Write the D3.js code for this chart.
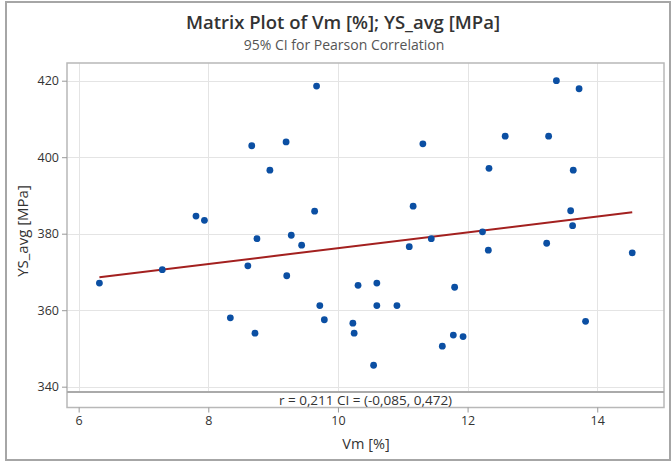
<!DOCTYPE html>
<html>
<head>
<meta charset="utf-8">
<script src="https://cdn.jsdelivr.net/npm/d3@7"></script>
<style>
  html, body { margin: 0; padding: 0; background: #fff; }
  svg { display: block; font-family: "Open Sans", "Noto Sans", sans-serif; }
</style>
</head>
<body>
<svg id="chart" width="672" height="463"></svg>
<script>
// Vm [%] and YS_avg [MPa] per specimen
const vm = [6.32, 7.29, 7.81, 7.94, 8.34, 8.61, 8.67, 8.72, 8.75, 8.95,
            9.20, 9.21, 9.28, 9.44, 9.64, 9.67, 9.72, 9.79, 10.23, 10.25,
            10.31, 10.55, 10.60, 10.60, 10.91, 11.10, 11.16, 11.31, 11.44, 11.61,
            11.78, 11.80, 11.93, 12.23, 12.32, 12.33, 12.58, 13.22, 13.25, 13.37,
            13.59, 13.62, 13.63, 13.72, 13.82, 14.54];
const ysAvg = [367.1, 370.6, 384.6, 383.5, 358.0, 371.6, 403.0, 354.0, 378.7, 396.6,
               404.0, 369.0, 379.6, 377.0, 385.9, 418.6, 361.2, 357.5, 356.6, 354.0,
               366.5, 345.6, 367.1, 361.2, 361.2, 376.6, 387.2, 403.5, 378.7, 350.6,
               353.5, 366.0, 353.1, 380.5, 375.7, 397.1, 405.5, 377.5, 405.5, 420.0,
               386.0, 382.1, 396.6, 417.9, 357.1, 375.0];
const xTicks = [6, 8, 10, 12, 14];
const yTicks = [340, 360, 380, 400, 420];
const titleText = "Matrix Plot of Vm [%]; YS_avg [MPa]";
const subtitleText = "95% CI for Pearson Correlation";
const statText = "r = 0,211  CI = (-0,085, 0,472)";
const xLabel = "Vm [%]";
const yLabel = "YS_avg [MPa]";

(function draw() {
  const svg = d3.select("#chart");

  // panel geometry
  const pLeft = 67, pRight = 664, pTop = 63, plotBottom = 392, bandBottom = 407.5;

  const x = d3.scaleLinear().domain([5.82, 15.03]).range([pLeft, pRight]);
  const y = d3.scaleLinear().domain([338.61, 424.63]).range([plotBottom, pTop]);

  // outer frame
  svg.append("rect")
    .attr("x", 6).attr("y", 2).attr("width", 664).attr("height", 458)
    .attr("fill", "#fff").attr("stroke", "#a6a6a6").attr("stroke-width", 2);

  // titles
  svg.append("text").attr("x", 343).attr("y", 29)
    .attr("text-anchor", "middle").attr("font-size", 18.5).attr("font-weight", 600)
    .attr("fill", "#333").text(titleText);
  svg.append("text").attr("x", 344).attr("y", 50)
    .attr("text-anchor", "middle").attr("font-size", 14)
    .attr("fill", "#555").text(subtitleText);

  // gridlines
  const grid = svg.append("g").attr("stroke", "#e4e4e4").attr("stroke-width", 1);
  grid.selectAll(".gx").data(xTicks).join("line")
    .attr("x1", d => Math.round(x(d)) + 0.5).attr("x2", d => Math.round(x(d)) + 0.5)
    .attr("y1", pTop).attr("y2", plotBottom);
  grid.selectAll(".gy").data(yTicks).join("line")
    .attr("x1", pLeft).attr("x2", pRight)
    .attr("y1", d => Math.round(y(d)) + 0.5).attr("y2", d => Math.round(y(d)) + 0.5);

  // panel border and stats band separator
  svg.append("rect")
    .attr("x", pLeft).attr("y", pTop).attr("width", pRight - pLeft).attr("height", bandBottom - pTop)
    .attr("fill", "none").attr("stroke", "#b8b8b8").attr("stroke-width", 1.5);
  svg.append("line")
    .attr("x1", pLeft).attr("x2", pRight).attr("y1", plotBottom).attr("y2", plotBottom)
    .attr("stroke", "#aaaaaa").attr("stroke-width", 2);

  // axes
  const xAxis = svg.append("g").attr("transform", `translate(0,${bandBottom})`)
    .call(d3.axisBottom(x).tickValues(xTicks).tickSize(5).tickPadding(4).tickFormat(d3.format("d")));
  const yAxis = svg.append("g").attr("transform", `translate(${pLeft},0)`)
    .call(d3.axisLeft(y).tickValues(yTicks).tickSize(5).tickPadding(3).tickFormat(d3.format("d")));
  [xAxis, yAxis].forEach(a => {
    a.select(".domain").remove();
    a.selectAll(".tick line").attr("stroke", "#999");
    a.selectAll(".tick text").attr("fill", "#333").attr("font-size", 12.5)
      .attr("font-family", "\"Open Sans\", \"Noto Sans\", sans-serif");
  });

  // axis titles
  svg.append("text").attr("x", 366).attr("y", 449)
    .attr("text-anchor", "middle").attr("font-size", 14.5).attr("fill", "#333").text(xLabel);
  svg.append("text")
    .attr("transform", "translate(28,231) rotate(-90)")
    .attr("text-anchor", "middle").attr("font-size", 15).attr("fill", "#333").text(yLabel);

  // correlation text in the band
  svg.append("text").attr("x", (pLeft + pRight) / 2).attr("y", plotBottom + 12.5)
    .attr("text-anchor", "middle").attr("font-size", 13.5).attr("fill", "#333").text(statText);

  // least-squares fit line
  const pts = vm.map((v, i) => [v, ysAvg[i]]);
  const mx = d3.mean(vm), my = d3.mean(ysAvg);
  const sxy = d3.sum(pts, p => (p[0] - mx) * (p[1] - my));
  const sxx = d3.sum(vm, v => (v - mx) * (v - mx));
  const slope = sxy / sxx, intercept = my - slope * mx;
  const [x0, x1] = d3.extent(vm);
  svg.append("line")
    .attr("x1", x(x0)).attr("y1", y(intercept + slope * x0))
    .attr("x2", x(x1)).attr("y2", y(intercept + slope * x1))
    .attr("stroke", "#a3201f").attr("stroke-width", 2);

  // points
  svg.append("g").selectAll("circle").data(pts).join("circle")
    .attr("cx", d => x(d[0])).attr("cy", d => y(d[1])).attr("r", 3.4)
    .attr("fill", "#0b4fa3");
})();
</script>
</body>
</html>
